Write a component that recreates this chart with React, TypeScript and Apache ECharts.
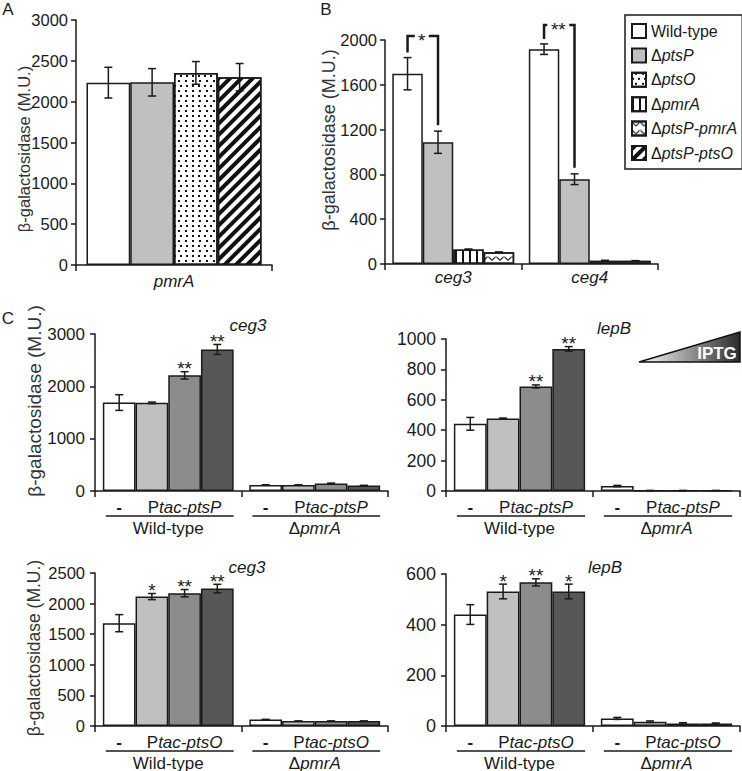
import React, { useEffect, useRef } from 'react';
import * as echarts from 'echarts';

const FONT = '"Liberation Sans", Arial, Helvetica, sans-serif';
const INK = '#1a1a1a';

// ---------- Panel A ----------
const aCategories = ['pmrA'];
const aSeriesNames = ['Wild-type', 'ΔptsP', 'ΔptsO', 'ΔptsP-ptsO'];
const aMeans = [2233, 2237, 2352, 2300];
const aErr = [188, 168, 139, 167];

// ---------- Panel B ----------
const bCategories = ['ceg3', 'ceg4'];
const bSeriesNames = ['Wild-type', 'ΔptsP', 'ΔpmrA', 'ΔptsP-pmrA'];
const bWildType = [1699, 1918];
const bPtsP = [1087, 757];
const bPmrA = [130, 30];
const bPtsPPmrA = [105, 28];
const bWildTypeErr = [144, 47];
const bPtsPErr = [99, 48];
const bPmrAErr = [4, 3];
const bPtsPPmrAErr = [3, 2];
const bSigLabels = ['*', '**'];
const bSigTop = [2036, 2134];

// ---------- Legend ----------
const legendNames = ['Wild-type', 'ΔptsP', 'ΔptsO', 'ΔpmrA', 'ΔptsP-pmrA', 'ΔptsP-ptsO'];

// ---------- Panel C ----------
const cGroups = ['Wild-type', 'ΔpmrA'];
const cShades = ['#ffffff', '#c0c0c0', '#8c8c8c', '#575757'];
// [shade][group]
const c1Means = [[1690, 115], [1685, 115], [2210, 145], [2705, 105]];
const c1Err = [[150, 4], [15, 3], [70, 6], [95, 3]];
const c1Stars = [['', ''], ['', ''], ['**', ''], ['**', '']];
const c2Means = [[442, 33], [477, 3], [688, 3], [935, 3]];
const c2Err = [[42, 4], [3, 0], [10, 0], [15, 0]];
const c2Stars = [['', ''], ['', ''], ['**', ''], ['**', '']];
const c3Means = [[1680, 105], [2115, 80], [2170, 80], [2245, 80]];
const c3Err = [[140, 4], [50, 3], [60, 3], [70, 3]];
const c3Stars = [['', ''], ['*', ''], ['**', ''], ['**', '']];
const c4Means = [[440, 30], [531, 17], [567, 10], [531, 10]];
const c4Err = [[39, 4], [29, 3], [14, 3], [29, 2]];
const c4Stars = [['', ''], ['*', ''], ['**', ''], ['*', '']];
const cConstructs = ['ptsP', 'ptsP', 'ptsO', 'ptsO'];
const cGenes = ['ceg3', 'lepB', 'ceg3', 'lepB'];

const GAP = 0.107;
const GAP_PCT = '10.7%';

const decalDots = {
  symbol: 'rect', symbolSize: 1, color: '#111', backgroundColor: '#fff',
  dashArrayX: [[1.2, 3.8], [0, 2.5, 1.2, 1.3]], dashArrayY: [1.2, 2.6],
};
const decalDiag = {
  symbol: 'rect', symbolSize: 1, color: '#111', backgroundColor: '#fff',
  dashArrayX: [10, 0], dashArrayY: [3.4, 3.6], rotation: -Math.PI / 4,
};
const decalVStripe = {
  symbol: 'rect', symbolSize: 1, color: '#111', backgroundColor: '#fff',
  dashArrayX: [1.5, 4.5], dashArrayY: [10, 0],
};
const decalZig = {
  symbol: 'path://M0,0L5,5L10,0L10,2L5,7L0,2Z', symbolSize: 1, color: '#111', backgroundColor: '#fff',
  dashArrayX: [8, 0], dashArrayY: [5, 3],
};

function yAx(gi: number, max: number, interval: number, fontSize: number, margin: number) {
  return {
    type: 'value', gridIndex: gi, min: 0, max, interval,
    axisLine: { show: true, lineStyle: { color: INK, width: 1.5 } },
    axisTick: { show: true, length: 5, lineStyle: { color: INK, width: 1.5 } },
    axisLabel: { fontSize, fontFamily: FONT, color: INK, margin, formatter: (v: number) => String(v) },
    splitLine: { show: false },
  };
}
function xAx(gi: number, data: string[], showLabel: boolean, margin = 6) {
  return {
    type: 'category', gridIndex: gi, data,
    axisLine: { show: true, lineStyle: { color: INK, width: 1.5 } },
    axisTick: { show: true, length: 6, lineStyle: { color: INK, width: 1.5 } },
    axisLabel: showLabel
      ? { fontSize: 17, fontStyle: 'italic', fontFamily: FONT, color: INK, margin }
      : { show: false },
  };
}
function bar(name: string, gi: number, data: number[], color: string, decal?: any) {
  return {
    type: 'bar', name, xAxisIndex: gi, yAxisIndex: gi, data,
    barGap: '0%', barCategoryGap: GAP_PCT,
    itemStyle: { color, borderColor: INK, borderWidth: 1.5, decal },
    z: 2,
  };
}

function errSeries(gi: number, n: number, means: number[][], errs: number[][], stars?: string[][], starFont = 19) {
  const data: number[][] = [];
  const labels: string[] = [];
  for (let bi = 0; bi < n; bi++) {
    for (let c = 0; c < means[bi].length; c++) {
      data.push([c, bi, means[bi][c] - errs[bi][c], means[bi][c] + errs[bi][c]]);
      labels.push(stars ? stars[bi][c] : '');
    }
  }
  return {
    type: 'custom', xAxisIndex: gi, yAxisIndex: gi, z: 5,
    encode: { x: 0, y: [2, 3] },
    data,
    renderItem: (params: any, api: any) => {
      const cat = api.value(0), bi = api.value(1), lo = api.value(2), hi = api.value(3);
      const band = api.size([1, 0])[0];
      const inner = band * (1 - GAP);
      const bw = inner / n;
      const cx = api.coord([cat, 0])[0] - inner / 2 + bw * (bi + 0.5);
      const yl = api.coord([cat, lo])[1];
      const yh = api.coord([cat, hi])[1];
      const cap = 4;
      const st = { stroke: INK, lineWidth: 1.5 };
      const children: any[] = [
        { type: 'line', shape: { x1: cx, y1: yl, x2: cx, y2: yh }, style: st },
        { type: 'line', shape: { x1: cx - cap, y1: yh, x2: cx + cap, y2: yh }, style: st },
        { type: 'line', shape: { x1: cx - cap, y1: yl, x2: cx + cap, y2: yl }, style: st },
      ];
      const s = labels[params.dataIndex];
      if (s) {
        children.push({
          type: 'text', x: cx, y: yh - 3,
          style: { text: s, fontSize: starFont, fontFamily: FONT, fill: INK, align: 'center', verticalAlign: 'middle' },
        });
      }
      return { type: 'group', children };
    },
  };
}

function groupLabelSeries(gi: number, construct: string) {
  return {
    type: 'custom', xAxisIndex: gi, yAxisIndex: gi, z: 5,
    encode: { x: 0, y: 1 },
    data: cGroups.map((_, i) => [i, 0]),
    renderItem: (params: any, api: any) => {
      const cat = api.value(0);
      const band = api.size([1, 0])[0];
      const inner = band * (1 - GAP);
      const bw = inner / 4;
      const c = api.coord([cat, 0]);
      const left = c[0] - inner / 2;
      const y0 = c[1];
      const rich = {
        n: { fontSize: 17, fontFamily: FONT, fill: INK, color: INK },
        i: { fontSize: 17, fontFamily: FONT, fontStyle: 'italic', fill: INK, color: INK },
      };
      const name = cGroups[params.dataIndex];
      const nameText = name.startsWith('Δ') ? `{n|Δ}{i|${name.slice(1)}}` : `{n|${name}}`;
      return {
        type: 'group',
        children: [
          { type: 'text', x: left + bw * 0.5, y: y0 + 16, style: { text: '-', fontSize: 17, fontFamily: FONT, fontWeight: 'bold', fill: INK, align: 'center', verticalAlign: 'middle' } },
          { type: 'text', x: left + bw * 2.5, y: y0 + 16, style: { text: `{n|P}{i|tac-${construct}}`, rich, align: 'center', verticalAlign: 'middle' } },
          { type: 'line', shape: { x1: left + 3, y1: y0 + 25, x2: left + inner, y2: y0 + 25 }, style: { stroke: INK, lineWidth: 1.5 } },
          { type: 'text', x: left + inner / 2, y: y0 + 37, style: { text: nameText, rich, align: 'center', verticalAlign: 'middle' } },
        ],
      };
    },
  };
}

function bracketSeries() {
  const data = bCategories.map((_, i) => [i, bWildType[i] + bWildTypeErr[i], bPtsP[i] + bPtsPErr[i], bSigTop[i]]);
  return {
    type: 'custom', xAxisIndex: 1, yAxisIndex: 1, z: 6,
    encode: { x: 0, y: [1, 2, 3] },
    data,
    renderItem: (params: any, api: any) => {
      const cat = api.value(0), l = api.value(1), r = api.value(2), top = api.value(3);
      const band = api.size([1, 0])[0];
      const inner = band * (1 - GAP);
      const bw = inner / 4;
      const base = api.coord([cat, 0])[0] - inner / 2;
      const x1 = base + bw * 0.5, x2 = base + bw * 1.5;
      const yt = api.coord([cat, top])[1];
      const y1 = api.coord([cat, l])[1] - 5;
      const y2 = api.coord([cat, r])[1] - 6;
      const label = bSigLabels[params.dataIndex];
      const mid = (x1 + x2) / 2 - 1;
      const half = label.length * 4 + 3;
      const st = { stroke: INK, lineWidth: 2.5, fill: null };
      return {
        type: 'group',
        children: [
          { type: 'polyline', shape: { points: [[x1, y1], [x1, yt], [mid - half, yt]] }, style: st },
          { type: 'polyline', shape: { points: [[mid + half, yt], [x2, yt], [x2, y2]] }, style: st },
          { type: 'text', x: mid, y: yt + 4.5, style: { text: label, fontSize: 19, fontFamily: FONT, fill: INK, align: 'center', verticalAlign: 'middle' } },
        ],
      };
    },
  };
}

function yTitle(x: number, y: number, size: number) {
  return {
    type: 'text', x, y, rotation: Math.PI / 2,
    style: {
      text: 'β-galactosidase (M.U.)', fontSize: size, fontFamily: FONT, fill: '#333',
      align: 'center', verticalAlign: 'middle', textAlign: 'center', textVerticalAlign: 'middle',
    },
  };
}
function plainText(x: number, y: number, text: string, size: number, italic = false, extra: any = {}) {
  return {
    type: 'text', x, y,
    style: {
      text, fontSize: size, fontFamily: FONT, fontStyle: italic ? 'italic' : 'normal', fill: INK,
      align: 'center', verticalAlign: 'middle', textAlign: 'center', textVerticalAlign: 'middle', ...extra,
    },
  };
}

function buildOption() {
  const cSets = [
    { means: c1Means, err: c1Err, stars: c1Stars },
    { means: c2Means, err: c2Err, stars: c2Stars },
    { means: c3Means, err: c3Err, stars: c3Stars },
    { means: c4Means, err: c4Err, stars: c4Stars },
  ];
  const series: any[] = [];
  // A
  const aDecals = [undefined, undefined, decalDots, decalDiag];
  const aColors = ['#ffffff', '#c0c0c0', '#ffffff', '#ffffff'];
  aSeriesNames.forEach((nm, i) => series.push(bar(nm, 0, [aMeans[i]], aColors[i], aDecals[i])));
  series.push(errSeries(0, 4, aMeans.map((m) => [m]), aErr.map((e) => [e])));
  // B
  const bData = [bWildType, bPtsP, bPmrA, bPtsPPmrA];
  const bErrs = [bWildTypeErr, bPtsPErr, bPmrAErr, bPtsPPmrAErr];
  const bDecals = [undefined, undefined, decalVStripe, decalZig];
  const bColors = ['#ffffff', '#c0c0c0', '#ffffff', '#ffffff'];
  bSeriesNames.forEach((nm, i) => series.push(bar(nm, 1, bData[i], bColors[i], bDecals[i])));
  series.push(errSeries(1, 4, bData, bErrs));
  series.push(bracketSeries());
  // C
  cSets.forEach((set, k) => {
    const gi = 2 + k;
    set.means.forEach((m, s) => series.push(bar(`C${k + 1}-${s}`, gi, m, cShades[s])));
    series.push(errSeries(gi, 4, set.means, set.err, set.stars));
    series.push(groupLabelSeries(gi, cConstructs[k]));
  });

  const grids = [
    { left: 76, top: 20, width: 196, height: 245 },
    { left: 385, top: 40, width: 273, height: 224 },
    { left: 95, top: 334, width: 293, height: 157 },
    { left: 446, top: 339, width: 294, height: 152 },
    { left: 95, top: 573, width: 293, height: 153 },
    { left: 446, top: 574, width: 294, height: 152 },
  ];

  const graphic: any[] = [
    plainText(8, 9, 'A', 17),
    plainText(326, 9, 'B', 17),
    plainText(8, 318, 'C', 17),
    yTitle(24, 149, 16.5),
    yTitle(329, 140, 18),
    yTitle(34, 401, 19),
    yTitle(34, 648, 17.5),
    plainText(248, 325, cGenes[0], 17, true),
    plainText(614, 328, cGenes[1], 17, true),
    plainText(247, 567, cGenes[2], 17, true),
    plainText(605, 567, cGenes[3], 17, true),
    {
      type: 'polygon',
      shape: { points: [[639, 362], [740, 332], [740, 362]] },
      style: {
        fill: { type: 'linear', x: 0, y: 0, x2: 1, y2: 0, colorStops: [{ offset: 0, color: '#ffffff' }, { offset: 1, color: '#2a2a2a' }] },
        stroke: '#111', lineWidth: 1.5,
      },
    },
    plainText(717, 353, 'IPTG', 17, false, { fill: '#ffffff', fontWeight: 'bold' }),
  ];

  return {
    animation: false,
    backgroundColor: '#ffffff',
    textStyle: { fontFamily: FONT },
    grid: grids,
    xAxis: [
      xAx(0, aCategories, true, 8),
      xAx(1, bCategories, true, 5),
      xAx(2, cGroups, false),
      xAx(3, cGroups, false),
      xAx(4, cGroups, false),
      xAx(5, cGroups, false),
    ],
    yAxis: [
      yAx(0, 3000, 500, 16.5, 8),
      yAx(1, 2000, 400, 16.5, 8),
      yAx(2, 3000, 1000, 17, 10),
      yAx(3, 1000, 200, 17.5, 10),
      yAx(4, 2500, 500, 16.5, 10),
      yAx(5, 600, 200, 18, 10),
    ],
    legend: {
      data: legendNames,
      orient: 'vertical',
      left: 625,
      top: 15,
      padding: [8, 5, 8, 6],
      borderColor: INK,
      borderWidth: 1.5,
      itemGap: 8.4,
      itemWidth: 14,
      itemHeight: 14,
      icon: 'rect',
      selectedMode: false,
      formatter: (name: string) => (name.startsWith('Δ') ? `{n|Δ}{i|${name.slice(1)}}` : `{n|${name}}`),
      textStyle: {
        fontSize: 16, fontFamily: FONT, color: INK, lineHeight: 16,
        rich: {
          n: { fontSize: 16, fontFamily: FONT, color: INK, lineHeight: 16 },
          i: { fontSize: 16, fontFamily: FONT, color: INK, fontStyle: 'italic', lineHeight: 16 },
        },
      },
    },
    graphic,
    series,
  };
}

export default function App() {
  const ref = useRef<HTMLDivElement>(null);
  useEffect(() => {
    const chart = echarts.init(ref.current as HTMLDivElement, null, { renderer: 'svg' });
    chart.setOption(buildOption() as any);
    return () => chart.dispose();
  }, []);
  return (
    <div
      ref={ref}
      style={{ position: 'absolute', left: 0, top: 0, width: 742, height: 771, background: '#fff' }}
    />
  );
}
